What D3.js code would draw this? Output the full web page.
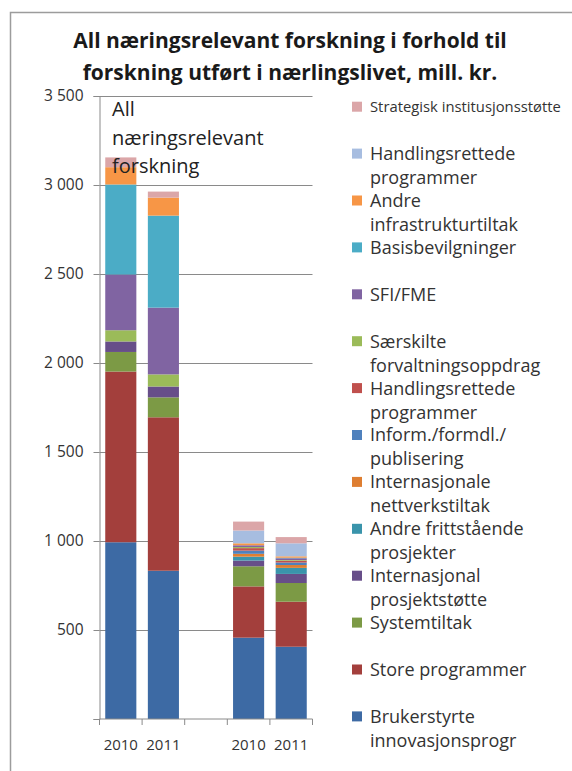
<!DOCTYPE html>
<html>
<head>
<meta charset="utf-8">
<script src="https://cdn.jsdelivr.net/npm/d3@7"></script>
<style>
  body { margin: 0; background: #fff; }
  text { font-family: 'Open Sans', Lato, sans-serif; fill: #333; }
</style>
</head>
<body>
<div id="chart"></div>
<script>
// bars, left to right ('gap' is the empty slot between the two groups)
const barKeys = ['all2010', 'all2011', 'gap', 'sub2010', 'sub2011'];
const barLabels = ['2010', '2011', '', '2010', '2011'];

// series, bottom of the stack first; values for all2010, all2011, sub2010, sub2011
const seriesNames = [
  'Brukerstyrte\ninnovasjonsprogr',
  'Store programmer',
  'Systemtiltak',
  'Internasjonal\nprosjektstøtte',
  'Andre frittstående\nprosjekter',
  'Internasjonale\nnettverkstiltak',
  'Inform./formdl./\npublisering',
  'Handlingsrettede\nprogrammer',
  'Særskilte\nforvaltningsoppdrag',
  'SFI/FME',
  'Basisbevilgninger',
  'Andre\ninfrastrukturtiltak',
  'Handlingsrettede\nprogrammer',
  'Strategisk institusjonsstøtte'
];
const brukerstyrte   = [993, 833, 457, 406];
const storeProgr     = [959, 862, 288, 253];
const systemtiltak   = [110, 112, 113, 105];
const intProsjekt    = [59, 61, 32, 51];
const andreFritt     = [0, 0, 22, 34];
const intNettverk    = [0, 0, 16, 16];
const inform         = [0, 0, 18, 14];
const handlingsRed   = [0, 0, 14, 10];
const saerskilte     = [63, 68, 6, 4];
const sfiFme         = [313, 375, 10, 10];
const basis          = [506, 517, 0, 3];
const andreInfra     = [97, 101, 11, 8];
const handlingsLys   = [0, 0, 72, 73];
const strategisk     = [55, 34, 50, 35];

const seriesValues = [brukerstyrte, storeProgr, systemtiltak, intProsjekt, andreFritt,
  intNettverk, inform, handlingsRed, saerskilte, sfiFme, basis, andreInfra,
  handlingsLys, strategisk];

const colors = ['#3d6aa4', '#a33f3c', '#7c9a45', '#674e89', '#3a94ab', '#de7e31',
  '#4f81bd', '#c0504d', '#9bbb59', '#8064a2', '#4bacc6', '#f79646',
  '#a7bde0', '#dba6a8'];

const yTicks = [0, 500, 1000, 1500, 2000, 2500, 3000, 3500];
const titleLines = ['All næringsrelevant forskning i forhold til',
  'forskning utført i nærlingslivet, mill. kr.'];
const noteLines = ['All', 'næringsrelevant', 'forskning'];

const W = 572, H = 771;
const plot = { left: 99.5, right: 312.5, top: 96, bottom: 719 };

const svg = d3.select('#chart').append('svg')
    .attr('width', W)
    .attr('height', H);

// chart area frame
svg.append('rect')
    .attr('x', 10.5).attr('y', 12.5)
    .attr('width', 700).attr('height', 900)
    .attr('fill', 'none')
    .attr('stroke', '#9c9c9c')
    .attr('stroke-width', 1.5);

svg.append('g').selectAll('text')
    .data(titleLines)
  .enter().append('text')
    .attr('x', 290)
    .attr('y', (d, i) => 48 + i * 31.5)
    .attr('text-anchor', 'middle')
    .style('font-size', '21px')
    .style('font-weight', 'bold')
    .style('fill', '#1a1a1a')
    .text(d => d);

const x = d3.scaleBand()
    .domain(barKeys)
    .range([plot.left, plot.right])
    .paddingInner(0.27)
    .paddingOuter(0.135);

const y = d3.scaleLinear()
    .domain([0, 3500])
    .range([plot.bottom, plot.top]);

const fmt = d3.formatLocale({ decimal: ',', thousands: ' ', grouping: [3], currency: ['', ''] }).format(',');

// gridlines
svg.append('g')
    .attr('transform', `translate(${plot.left},0)`)
    .call(d3.axisLeft(y).tickValues(yTicks.slice(1)).tickSize(-(plot.right - plot.left)).tickFormat(''))
    .call(g => g.select('.domain').remove())
    .call(g => g.selectAll('line').attr('stroke', '#8a8a8a'));

// stacked bars
const rows = barKeys.filter(k => k !== 'gap').map((k, i) => {
  const row = { key: k };
  seriesValues.forEach((vals, s) => { row['s' + s] = vals[i]; });
  return row;
});
const stack = d3.stack().keys(seriesValues.map((v, s) => 's' + s))(rows);

svg.append('g').selectAll('g')
    .data(stack)
  .enter().append('g')
    .attr('fill', (d, i) => colors[i])
  .selectAll('rect')
    .data(d => d)
  .enter().append('rect')
    .attr('x', d => x(d.data.key))
    .attr('width', x.bandwidth())
    .attr('y', d => y(d[1]))
    .attr('height', d => y(d[0]) - y(d[1]));

// y axis
svg.append('g')
    .attr('transform', `translate(${plot.left},0)`)
    .call(d3.axisLeft(y).tickValues(yTicks).tickSize(6).tickPadding(10).tickFormat(d => d === 0 ? '' : fmt(d)))
    .call(g => g.select('.domain').attr('stroke', '#8a8a8a'))
    .call(g => g.selectAll('line').attr('stroke', '#8a8a8a'))
    .call(g => g.selectAll('text').style('font-size', '15.5px').style('font-family', 'Open Sans').attr('fill', '#333'));

// x axis: line, ticks on slot boundaries, labels under bars
const xAxis = svg.append('g');
xAxis.append('line')
    .attr('x1', plot.left).attr('x2', plot.right)
    .attr('y1', plot.bottom).attr('y2', plot.bottom)
    .attr('stroke', '#8a8a8a');
xAxis.selectAll('.tick')
    .data(d3.range(barKeys.length + 1))
  .enter().append('line')
    .attr('x1', i => plot.left + i * x.step())
    .attr('x2', i => plot.left + i * x.step())
    .attr('y1', plot.bottom).attr('y2', plot.bottom + 6)
    .attr('stroke', '#8a8a8a');
xAxis.selectAll('text')
    .data(barKeys)
  .enter().append('text')
    .attr('x', d => x(d) + x.bandwidth() / 2)
    .attr('y', plot.bottom + 31)
    .attr('text-anchor', 'middle')
    .style('font-size', '15px')
    .text((d, i) => barLabels[i]);

// note inside the plot
svg.append('g').selectAll('text')
    .data(noteLines)
  .enter().append('text')
    .attr('x', 112)
    .attr('y', (d, i) => 116 + i * 28.5)
    .style('font-size', '20px')
    .style('fill', '#222')
    .text(d => d);

// legend, top entry = last series
const legend = svg.append('g');
const order = d3.range(seriesNames.length).reverse();
const item = legend.selectAll('g')
    .data(order)
  .enter().append('g')
    .attr('transform', (s, i) => `translate(352,${106.7 + i * 46.9})`);
item.append('rect')
    .attr('x', 0).attr('y', -5)
    .attr('width', 10).attr('height', 10)
    .attr('fill', s => colors[s]);
item.each(function (s, i) {
  const lines = seriesNames[s].split('\n');
  d3.select(this).selectAll('text')
      .data(lines)
    .enter().append('text')
      .attr('x', 18)
      .attr('y', (d, j) => j * 24)
      .attr('dy', '0.36em')
      .style('font-size', i === 0 ? '14.8px' : '18px')
      .text(d => d);
});
</script>
</body>
</html>
